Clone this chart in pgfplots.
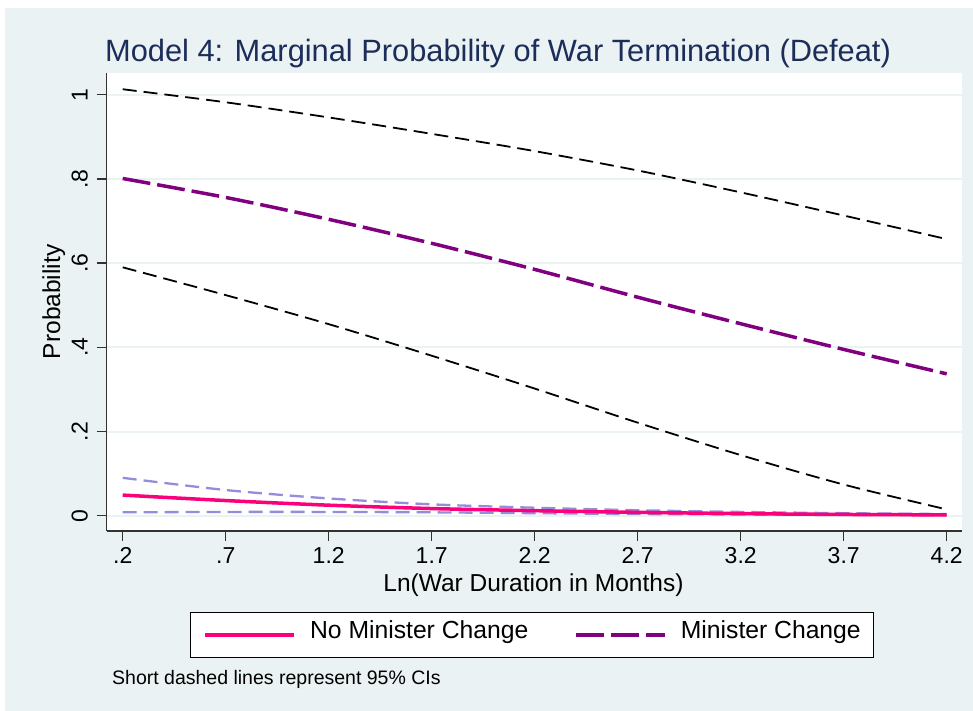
\documentclass[border=0pt]{standalone}
\usepackage{fontspec}
\setmainfont{Liberation Sans}
\usepackage{pgfplots}
\pgfplotsset{compat=1.18}
\definecolor{bgc}{RGB}{234,242,243}
\definecolor{titlec}{RGB}{28,45,90}
\definecolor{pinkc}{RGB}{250,0,122}
\definecolor{purplec}{RGB}{128,0,128}
\definecolor{lavc}{RGB}{150,140,220}
\definecolor{gridc}{RGB}{234,242,243}
\definecolor{axc}{RGB}{50,50,50}

\pgfplotstableread{
x    lo     hi
0.2  0.590  1.013
0.7  0.524  0.982
1.2  0.455  0.946
1.7  0.380  0.907
2.2  0.302  0.866
2.7  0.221  0.820
3.2  0.144  0.768
3.7  0.074  0.713
4.2  0.015  0.657
}\ciMin
\pgfplotstableread{
x    y
0.2  0.801
0.7  0.756
1.2  0.704
1.7  0.647
2.2  0.585
2.7  0.519
3.2  0.456
3.7  0.395
4.2  0.337
}\minChange
\pgfplotstableread{
x    y      lo     hi
0.2  0.049  0.008  0.090
0.7  0.036  0.009  0.061
1.2  0.025  0.009  0.041
1.7  0.017  0.008  0.027
2.2  0.012  0.006  0.019
2.7  0.008  0.004  0.013
3.2  0.005  0.003  0.009
3.7  0.003  0.002  0.006
4.2  0.002  0.001  0.004
}\noChange

\begin{document}
\begin{tikzpicture}[x=1pt,y=1pt]
\fill[white] (0,0) rectangle (973,711);
\fill[bgc] (5,0) rectangle (973,703);
\node[anchor=base west, text=titlec, font=\fontsize{30.8}{36}\selectfont, inner sep=0pt] at (105,649.3) {Model 4: Marginal Probability of War Termination (Defeat)};
\node[anchor=base west, font=\fontsize{19.5}{23}\selectfont, inner sep=0pt] at (112,26) {Short dashed lines represent 95\% CIs};
\begin{axis}[
  at={(106.7pt,180pt)}, anchor=south west,
  scale only axis, width=855.6pt, height=458.3pt,
  xmin=0.1223, xmax=4.2757, ymin=-0.0363, ymax=1.0523,
  axis x line*=bottom, axis y line*=left,
  axis line style={-, axc, line width=1.3pt},
  axis background/.style={fill=white},
  xtick={0.2,0.7,1.2,1.7,2.2,2.7,3.2,3.7,4.2},
  xticklabels={.2,.7,1.2,1.7,2.2,2.7,3.2,3.7,4.2},
  ytick={0,0.2,0.4,0.6,0.8,1},
  yticklabels={0,.2,.4,.6,.8,1},
  tick align=outside, major tick length=10pt,
  tick pos=left,
  tick style={axc, line width=1.3pt},
  ymajorgrids, grid style={gridc, line width=2pt},
  xticklabel style={font=\fontsize{23}{27}\selectfont, anchor=base, yshift=-23pt},
  yticklabel style={font=\fontsize{23}{27}\selectfont, xshift=-9pt, rotate=90, anchor=base},
  xlabel={Ln(War Duration in Months)},
  ylabel={Probability},
  xlabel style={font=\fontsize{24.5}{29}\selectfont, at={(axis description cs:0.4988,-0.131)}, anchor=base},
  ylabel style={font=\fontsize{24.5}{29}\selectfont, at={(axis description cs:-0.05458,0.5)}, anchor=base},
  legend columns=2,
  legend style={at={(axis description cs:0.09736,-0.17674)}, anchor=north west,
    draw=black, line width=1.2pt, fill=white,
    inner xsep=13pt, inner ysep=19pt,
    font=\fontsize{24.7}{29}\selectfont,
    nodes={inner sep=0pt, text depth=0pt, text height=0.72em},
    /tikz/every odd column/.append style={column sep=14pt},
    /tikz/every even column/.append style={column sep=46pt}},
  legend image code/.code={\draw[#1] (0pt,0pt) -- (89pt,0pt);},
]
\addplot[forget plot, lavc, line width=2.3pt, dash pattern=on 14pt off 7pt, smooth] table[x=x, y=hi] {\noChange};
\addplot[forget plot, lavc, line width=2.3pt, dash pattern=on 14pt off 7pt, smooth] table[x=x, y=lo] {\noChange};
\addplot[forget plot, black, line width=1.8pt, dash pattern=on 14pt off 7pt, smooth] table[x=x, y=hi] {\ciMin};
\addplot[forget plot, black, line width=1.8pt, dash pattern=on 14pt off 7pt, smooth] table[x=x, y=lo] {\ciMin};
\addplot[pinkc, line width=3.5pt, solid, smooth] table[x=x, y=y] {\noChange};
\addlegendentry{No Minister Change}
\addplot[purplec, line width=3.5pt, dash pattern=on 28pt off 7pt, smooth] table[x=x, y=y] {\minChange};
\addlegendentry{Minister Change\hspace{8pt}}
\end{axis}
\end{tikzpicture}
\end{document}
